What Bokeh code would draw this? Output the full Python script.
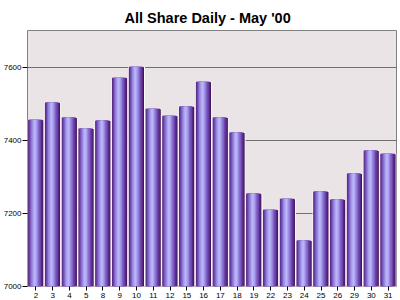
from bokeh.plotting import figure
from bokeh.models import ColumnDataSource, FixedTicker, Range1d
from bokeh.transform import dodge
from bokeh.embed import file_html
from bokeh.resources import INLINE

days = ["2", "3", "4", "5", "8", "9", "10", "11", "12", "15", "16", "17",
        "18", "19", "22", "23", "24", "25", "26", "29", "30", "31"]
values = [7456, 7503, 7462, 7432, 7454, 7571, 7601, 7486, 7467, 7492, 7560,
          7462, 7421, 7254, 7210, 7240, 7126, 7260, 7238, 7309, 7372, 7363]
y_ticks = [7000, 7200, 7400, 7600]

src = ColumnDataSource(dict(day=days, val=values))

p = figure(width=400, height=300, x_range=days, y_range=Range1d(7000, 7700),
           output_backend="svg", toolbar_location=None,
           min_border_left=25, min_border_right=4, min_border_top=30,
           min_border_bottom=14)

p.title.text = "All Share Daily - May '00"
p.title.align = "left"
p.title.text_font = "Liberation Sans"
p.title.text_font_size = "14.5px"
p.title.text_font_style = "bold"
p.title.text_color = "#000000"
p.title.offset = 97
p.title.standoff = 10

p.background_fill_color = "#ebe4e6"
p.border_fill_color = "#ffffff"
p.outline_line_color = "#808080"

# cylinder-like bars: stacked layers from wide/dark to narrow/light
layers = [
    (0.95, 0.0, "#3e0d55"),
    (0.86, -0.03, "#572783"),
    (0.72, -0.05, "#6b43a8"),
    (0.56, -0.06, "#8163c8"),
    (0.40, -0.07, "#9786de"),
    (0.24, -0.07, "#ada4f0"),
    (0.10, -0.07, "#bab4f8"),
]
for i, (w, off, col) in enumerate(layers):
    p.vbar(x=dodge("day", off, range=p.x_range), top="val", bottom=7000,
           width=w, source=src, fill_color=col,
           line_color="#ffffff" if i == 0 else None,
           line_width=1 if i == 0 else 0)

p.xgrid.grid_line_color = None
p.ygrid.grid_line_color = "#707070"
p.ygrid.grid_line_width = 1
p.yaxis.ticker = FixedTicker(ticks=y_ticks)

for ax in (p.xaxis, p.yaxis):
    ax.axis_line_color = None
    ax.major_tick_line_color = "#000000"
    ax.minor_tick_line_color = None
    ax.major_label_text_font = "Liberation Sans"
    ax.major_label_text_color = "#000000"
    ax.major_tick_in = 0
    ax.major_tick_out = 5
p.yaxis.major_label_text_font_size = "8px"
p.yaxis.major_label_standoff = 1
p.xaxis.major_label_text_font_size = "8px"
p.xaxis.major_label_standoff = 2
p.xaxis.major_tick_out = 4

open("out.html", "w").write(file_html(p, INLINE))
